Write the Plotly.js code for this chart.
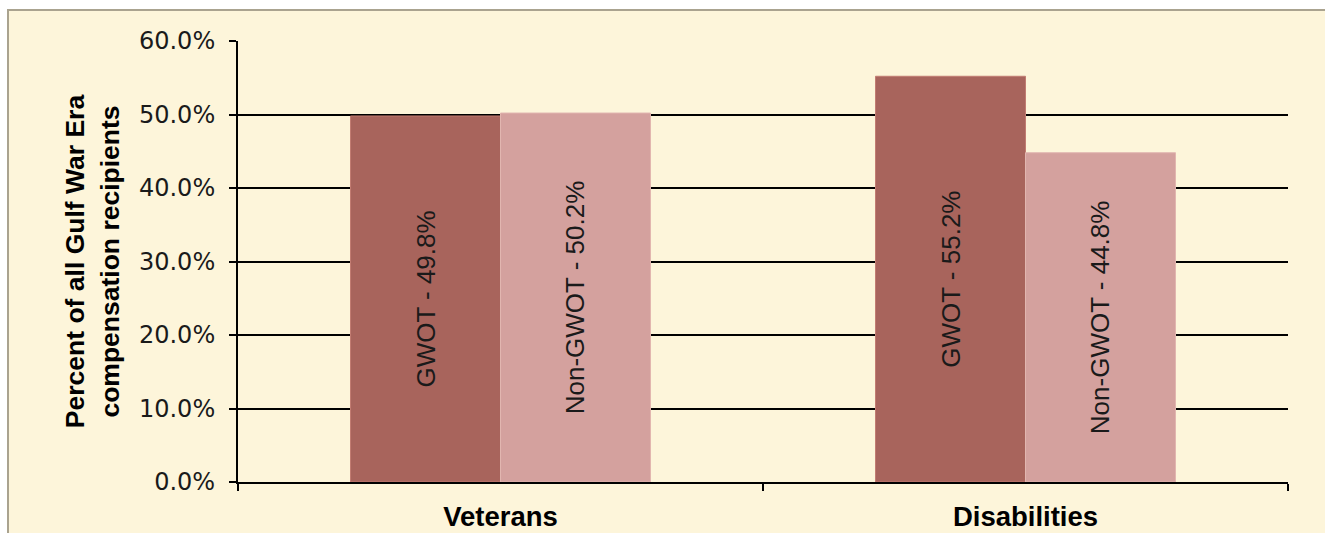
<!DOCTYPE html>
<html>
<head>
<meta charset="utf-8">
<script src="https://cdn.plot.ly/plotly-3.0.1.min.js"></script>
<style>
  html, body { margin: 0; padding: 0; background: #ffffff; }
  #frame { position: absolute; left: 7px; top: 9px; width: 1318px; height: 524px;
           background: #fdf5da; border-left: 2px solid #aaa38f; border-top: 2px solid #aaa38f; box-sizing: border-box; }
  #chart { position: absolute; left: 0; top: 0; width: 1325px; height: 533px; }
</style>
</head>
<body>
<div id="frame"></div>
<div id="chart"></div>
<script>
const categories = ["Veterans", "Disabilities"];
const gwotName = "GWOT";
const nonGwotName = "Non-GWOT";
const gwotValues = [49.8, 55.2];
const nonGwotValues = [50.2, 44.8];
const yTickValues = [0, 10, 20, 30, 40, 50, 60];

function labels(name, vals) { return vals.map(v => name + " - " + v.toFixed(1) + "%"); }

const barText = { family: "Liberation Sans, Arial, sans-serif", size: 26, color: "#1a1a1a" };

const traces = [
  {
    type: "bar", name: gwotName, x: categories, y: gwotValues.map(v => v / 100),
    text: labels(gwotName, gwotValues), textposition: "inside", insidetextanchor: "middle",
    textangle: -90, insidetextfont: barText, constraintext: "none", hoverinfo: "none",
    marker: { color: "#a8645c", line: { color: "#c27c72", width: 1 } }
  },
  {
    type: "bar", name: nonGwotName, x: categories, y: nonGwotValues.map(v => v / 100),
    text: labels(nonGwotName, nonGwotValues), textposition: "inside", insidetextanchor: "middle",
    textangle: -90, insidetextfont: barText, constraintext: "none", hoverinfo: "none",
    marker: { color: "#d4a19e", line: { color: "#e2b6b0", width: 1 } }
  }
];

const layout = {
  width: 1325, height: 533,
  margin: { l: 238, r: 37, t: 41, b: 51 },
  paper_bgcolor: "rgba(0,0,0,0)", plot_bgcolor: "rgba(0,0,0,0)",
  showlegend: false,
  barmode: "group", bargap: 0.4286, bargroupgap: 0,
  xaxis: {
    type: "category",
    showline: true, linecolor: "#000", linewidth: 2,
    ticks: "outside", tickson: "boundaries", ticklen: 7, tickwidth: 2, tickcolor: "#000",
    showgrid: false,
    tickfont: { family: "Liberation Sans, Arial, sans-serif", size: 27.5, color: "#000", weight: "bold" },
    ticklabelstandoff: 9
  },
  yaxis: {
    range: [0, 0.6], tickvals: yTickValues.map(v => v / 100), tickformat: ".1%",
    showline: true, linecolor: "#000", linewidth: 2,
    ticks: "outside", ticklen: 7, tickwidth: 2, tickcolor: "#000",
    showgrid: true, gridcolor: "#000", gridwidth: 2, zeroline: false,
    tickfont: { family: "DejaVu Sans, sans-serif", size: 24, color: "#1a1a1a" },
    ticklabelstandoff: 9,
    title: {
      text: "Percent of all Gulf War Era<br>compensation recipients",
      font: { family: "Liberation Sans, Arial, sans-serif", size: 26.5, color: "#000", weight: "bold" },
      standoff: 12
    }
  }
};

Plotly.newPlot("chart", traces, layout, { displayModeBar: false, staticPlot: true });
</script>
</body>
</html>
